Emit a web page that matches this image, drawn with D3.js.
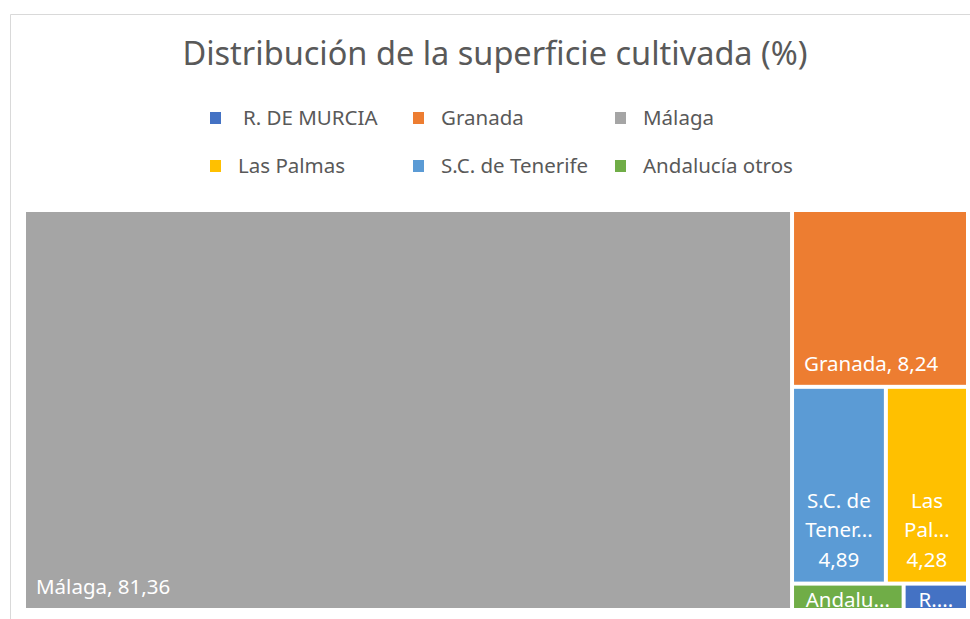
<!DOCTYPE html>
<html><head><meta charset="utf-8">
<script src="https://cdn.jsdelivr.net/npm/d3@7"></script>
<style>
body{margin:0;background:#fff;}
svg{display:block;font-family:"Noto Sans","Open Sans",sans-serif;}
</style></head><body>
<svg id="c" width="970" height="619"></svg>
<script>
const categories = ["Málaga","Granada","S.C. de Tenerife","Las Palmas","Andalucía otros","R. DE MURCIA"];
const values = [81.36, 8.24, 4.89, 4.28, 0.78, 0.45];
const colors = ["#A5A5A5","#ED7D31","#5B9BD5","#FFC000","#70AD47","#4472C4"];
const legendOrder = ["R. DE MURCIA","Granada","Málaga","Las Palmas","S.C. de Tenerife","Andalucía otros"];
// label lines as displayed (truncated where the cell is narrow)
const labelLines = [["Málaga, 81,36"],["Granada, 8,24"],["S.C. de","Tener...","4,89"],["Las","Pal...","4,28"],["Andalu..."],["R...."]];
const title = "Distribución de la superficie cultivada (%)";

const svg = d3.select("#c");
const color = d3.scaleOrdinal().domain(categories).range(colors);

// chart border
svg.append("path").attr("d","M10.5,619 V14.5 H970").attr("fill","none").attr("stroke","#d9d9d9");

svg.append("text").attr("x",495).attr("y",65).attr("text-anchor","middle")
  .attr("font-size",32.5).attr("fill","#595959").text(title);

// legend
const legX = [210,413,615], legY = [118,166];
legendOrder.forEach((name,i)=>{
  const col=i%3,row=Math.floor(i/3);
  const g=svg.append("g").attr("transform",`translate(${legX[col]},${legY[row]})`);
  g.append("rect").attr("x",0).attr("y",-6).attr("width",11).attr("height",12).attr("fill",color(name));
  g.append("text").attr("x", name==="R. DE MURCIA"?33:28).attr("y",7).attr("font-size",20.5).attr("fill","#595959").text(name);
});

// hierarchy mirroring the layout
const leaf = i => ({name:categories[i], value:values[i], idx:i});
const tree = {dir:"h", children:[
  leaf(0),
  {dir:"v", children:[
    leaf(1),
    {dir:"v", children:[
      {dir:"h", children:[leaf(2), leaf(3)]},
      {dir:"h", children:[leaf(4), leaf(5)]}
    ]}
  ]}
]};
const root = d3.hierarchy(tree).sum(d=>d.value||0);
d3.treemap()
  .size([940, 396])
  .paddingInner(4)
  .tile((node,x0,y0,x1,y1)=> (node.data.dir==="h"?d3.treemapDice:d3.treemapSlice)(node,x0,y0,x1,y1))
  (root);

const g = svg.append("g").attr("transform","translate(26,212)");
const leaves = root.leaves();
const cell = g.selectAll("g.cell").data(leaves).join("g").attr("class","cell")
  .attr("transform",d=>`translate(${d.x0},${d.y0})`);
cell.append("clipPath").attr("id",d=>"cp"+d.data.idx)
  .append("rect").attr("width",d=>d.x1-d.x0).attr("height",d=>d.y1-d.y0);
cell.append("rect").attr("width",d=>d.x1-d.x0).attr("height",d=>d.y1-d.y0)
  .attr("fill",d=>color(d.data.name));
cell.each(function(d){
  const lines = labelLines[d.data.idx];
  const w = d.x1-d.x0, h = d.y1-d.y0;
  const t = d3.select(this).append("text").attr("clip-path",`url(#cp${d.data.idx})`)
    .attr("font-size",20.5).attr("fill","#fff");
  if (lines.length===1){
    if (h>100){ t.attr("x",10).attr("y",h-14).text(lines[0]); }
    else { t.attr("x",w/2).attr("text-anchor","middle").attr("y",h-1).text(lines[0]); }
  } else {
    lines.forEach((l,k)=>{
      t.append("tspan").attr("x",w/2).attr("text-anchor","middle").attr("y",h-74+k*29.5).text(l);
    });
  }
});
</script></body></html>
